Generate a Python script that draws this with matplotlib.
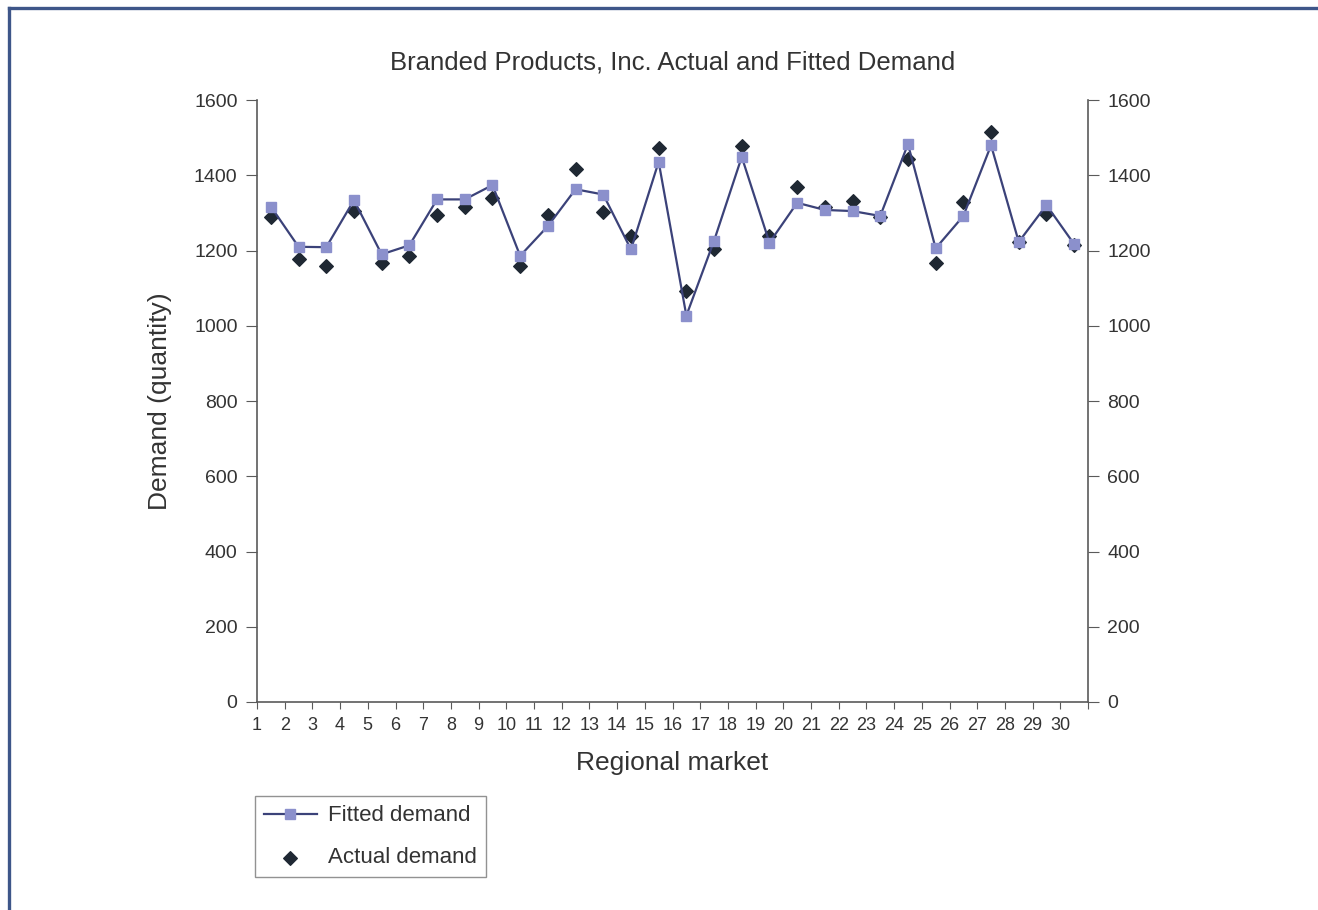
import matplotlib
matplotlib.use('Agg')
import matplotlib.pyplot as plt
from matplotlib.lines import Line2D

# regional markets 1..30 (drawn between the category ticks)
markets = list(range(1, 31))
fitted = [1317, 1210, 1209, 1334, 1190, 1214, 1336, 1336, 1374, 1186,
          1265, 1363, 1349, 1203, 1436, 1027, 1226, 1449, 1221, 1327,
          1308, 1305, 1292, 1483, 1206, 1292, 1480, 1223, 1321, 1217]
actual = [1290, 1177, 1160, 1306, 1167, 1186, 1294, 1317, 1341, 1159,
          1294, 1416, 1303, 1239, 1472, 1092, 1203, 1478, 1239, 1368,
          1316, 1332, 1290, 1443, 1168, 1330, 1516, 1223, 1296, 1215]
yticks = [0, 200, 400, 600, 800, 1000, 1200, 1400, 1600]

plt.rcParams['font.family'] = ['Liberation Sans', 'DejaVu Sans']

fig = plt.figure(figsize=(13.18, 9.10), dpi=100)
ax = fig.add_axes([0.195, 0.2286, 0.6305, 0.6614])

xpos = [m + 0.5 for m in markets]
ax.scatter(xpos, actual, marker='D', s=48, color='#1f2833', zorder=2,
           label='Actual demand')
ax.plot(xpos, fitted, '-s', color='#3b4279', lw=1.6, ms=7.5,
        markerfacecolor='#8b90cc', markeredgecolor='#8b90cc', zorder=3,
        label='Fitted demand')

ax.set_xlim(1, 31)
ax.set_ylim(0, 1600)
ax.set_xticks(range(1, 32))
ax.set_xticklabels([str(m) for m in markets] + [''])
ax.set_yticks(yticks)

gray = '#5a5a5a'
for s in ['left', 'right', 'bottom']:
    ax.spines[s].set_color(gray)
    ax.spines[s].set_linewidth(1.2)
ax.spines['top'].set_visible(False)
ax.tick_params(axis='y', direction='out', length=8, colors=gray,
               labelcolor='#333333', labelsize=14, pad=6)
ax.tick_params(axis='x', direction='out', length=5, colors=gray,
               labelcolor='#333333', labelsize=13, pad=6)

ax2 = ax.twinx()
ax2.set_ylim(0, 1600)
ax2.set_yticks(yticks)
for s in ['left', 'right', 'bottom', 'top']:
    ax2.spines[s].set_visible(False)
ax2.tick_params(axis='y', direction='out', length=8, colors=gray,
                labelcolor='#333333', labelsize=14, pad=6)

ax.set_title('Branded Products, Inc. Actual and Fitted Demand',
             fontsize=18.5, color='#333333', pad=22)
ax.set_xlabel('Regional market', fontsize=19, color='#333333', labelpad=12)
ax.set_ylabel('Demand (quantity)', fontsize=19, color='#333333', labelpad=16)

handles, labels = ax.get_legend_handles_labels()
leg = ax.legend(handles[::-1], labels[::-1], loc='upper left',
                bbox_to_anchor=(-0.0025, -0.157), fontsize=16,
                frameon=True, fancybox=False, edgecolor='#777777',
                handlelength=2.4, handletextpad=0.5, labelspacing=0.95,
                borderpad=0.4, borderaxespad=0.0)
leg.get_frame().set_linewidth(1.0)
for t in leg.get_texts():
    t.set_color('#333333')

# outer frame lines (top and left)
fig.add_artist(Line2D([0.0068, 1.0], [0.9912, 0.9912], color='#3e5689', lw=2.4))
fig.add_artist(Line2D([0.0068, 0.0068], [0.0, 0.9912], color='#3e5689', lw=2.4))

fig.savefig('out.png', dpi=100)
